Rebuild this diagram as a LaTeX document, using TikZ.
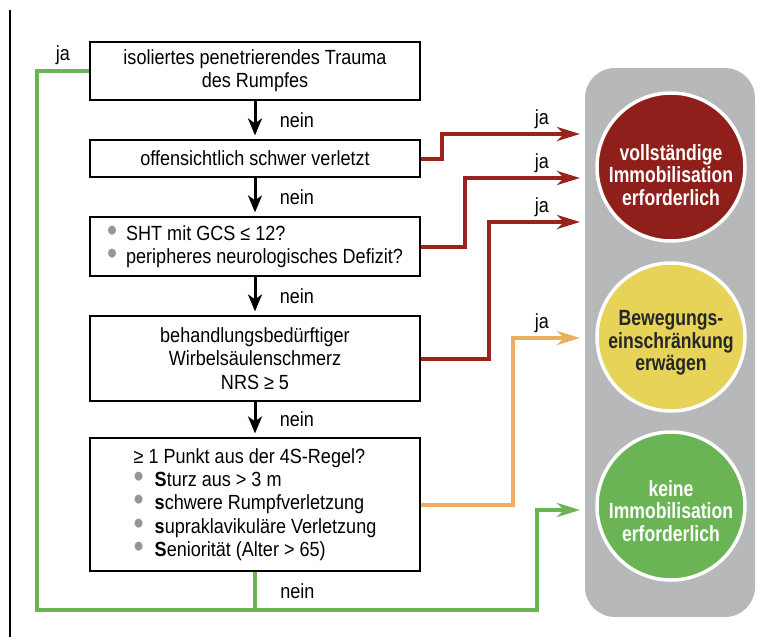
\documentclass[tikz,border=0pt]{standalone}
\usepackage{fontspec}
\setmainfont[FakeStretch=0.88]{Liberation Sans}
\newfontfamily\ampelfont[FakeStretch=0.8]{Liberation Sans}
\usepackage{graphicx}
\usetikzlibrary{arrows.meta}
\definecolor{ampelrot}{RGB}{143,31,27}
\definecolor{linienrot}{RGB}{155,35,30}
\definecolor{ampelgelb}{RGB}{230,211,88}
\definecolor{ampelgruen}{RGB}{106,180,86}
\definecolor{linienorange}{RGB}{232,176,96}
\definecolor{ampelgrau}{RGB}{183,184,186}
\definecolor{punktgrau}{RGB}{150,150,150}
\newcommand\gpkt{\textcolor{punktgrau}{\raisebox{-0.05em}{\scalebox{1.6}{\textbullet}}}}
\tikzset{
  frage/.style={draw, line width=1.2pt, minimum width=330pt, inner sep=0pt,
    align=center, font=\fontsize{20.5}{23.3}\selectfont},
  pfeil/.style={line width=3pt, -{Stealth[length=17pt,width=14pt,inset=5pt]}, shorten >=4pt},
  nein/.style={midway, right, xshift=20pt, text=black, font=\fontsize{20.5}{23}\selectfont},
  ja/.style={anchor=south, yshift=2pt, font=\fontsize{20.5}{23}\selectfont},
  linie/.style={line width=4pt, line join=miter,
    -{Stealth[length=23pt,width=14pt,inset=7pt]}},
  lampe/.style={circle, draw=white, line width=3.5pt, minimum size=148pt},
  lampentext/.style={align=center, font=\ampelfont\bfseries\fontsize{22}{22.5}\selectfont}
}
\begin{document}
\begin{tikzpicture}[x=1pt,y=-1pt]
\useasboundingbox (0,0) rectangle (758,637);
\draw[line width=1.3pt] (10,10) -- (10,637);

% Ampel
\node[fill=ampelgrau, rounded corners=30pt, minimum width=170pt,
  minimum height=549pt] (ampel) at (670,342.5) {};
\node[lampe, fill=ampelrot] (rot) at (671,167) {};
\node[lampe, fill=ampelgelb] (gelb) at (671,337) {};
\node[lampe, fill=ampelgruen] (gruen) at (671,506) {};
\node[lampentext, text=white] (rottext) at ([yshift=-8pt]rot)
  {vollständige\\Immobilisation\\erforderlich};
\node[lampentext, text=black!85] (gelbtext) at ([yshift=-6pt]gelb)
  {Bewegungs-\\einschränkung\\erwägen};
\node[lampentext, text=white] (gruentext) at ([yshift=-5pt]gruen)
  {keine\\Immobilisation\\erforderlich};

% Fragen
\node[frage, minimum height=58pt] (q1) at (255,71)
  {isoliertes penetrierendes Trauma\\des Rumpfes};
\node[frage, minimum height=37pt] (q2) at (255,158.5)
  {offensichtlich schwer verletzt};
\node[frage, minimum height=59pt, align=left] (q3) at (255,246.5)
  {\gpkt\hspace{9pt}SHT mit GCS ≤ 12?\\
   \gpkt\hspace{9pt}peripheres neurologisches Defizit?};
\node[frage, minimum height=85pt] (q4) at (255,358.5)
  {behandlungsbedürftiger\\Wirbelsäulenschmerz\\NRS ≥ 5};
\node[frage, minimum height=133pt, align=left] (q5) at (255,504.5)
  {≥ 1 Punkt aus der 4S-Regel?\\
   \gpkt\hspace{11pt}\textbf{S}turz aus > 3 m\\
   \gpkt\hspace{11pt}\textbf{s}chwere Rumpfverletzung\\
   \gpkt\hspace{11pt}\textbf{s}upraklavikuläre Verletzung\\
   \gpkt\hspace{11pt}\textbf{S}eniorität (Alter > 65)};

\draw[pfeil] (q1) -- (q2) node[nein]{nein};
\draw[pfeil] (q2) -- (q3) node[nein]{nein};
\draw[pfeil] (q3) -- (q4) node[nein]{nein};
\draw[pfeil] (q4) -- (q5) node[nein]{nein};

% ja-Zweige
\coordinate (r1) at (580,134);
\coordinate (r2) at (580,178);
\coordinate (r3) at (580,222);
\coordinate (o1) at (580,338);
\coordinate (g1) at (580,510);
\coordinate (gu) at (37,610);
\coordinate (gk) at (537,510);

\draw[linie, linienrot] (q2.east) -- ++(21,0) |- (r1);
\draw[linie, linienrot] (q3.east) -- ++(44,0) |- (r2);
\draw[linie, linienrot] (q4.east) -- ++(68,0) |- (r3);
\draw[linie, linienorange] (q5.east) -- ++(92,0) |- (o1);
\draw[linie, ampelgruen] (q1.west) -| (gu) -| (gk) -- (g1);
\draw[line width=4pt, ampelgruen] (q5.south) -- (q5.south |- gu)
  node[nein]{nein};

\node[ja] (ja1) at ([xshift=-38pt]r1) {ja};
\node[ja] (ja2) at ([xshift=-38pt]r2) {ja};
\node[ja] (ja3) at ([xshift=-38pt]r3) {ja};
\node[ja] (ja4) at ([xshift=-38pt]o1) {ja};
\node[ja] (ja0) at (63,70) {ja};
\end{tikzpicture}
\end{document}
